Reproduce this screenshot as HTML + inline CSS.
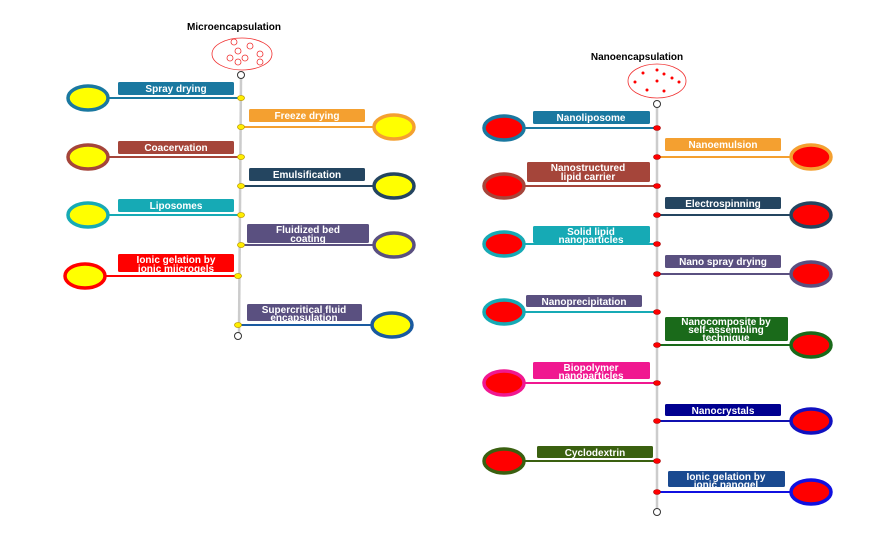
<!DOCTYPE html>
<html><head><meta charset="utf-8"><style>
html,body{margin:0;padding:0;background:#fff;}
svg{display:block;font-family:"Liberation Sans",sans-serif;font-weight:bold;}
</style></head><body>
<svg width="876" height="534" viewBox="0 0 876 534" xmlns="http://www.w3.org/2000/svg">
<g font-size="10" text-anchor="middle" fill="#fff">
<!-- LEFT -->
<text x="234" y="30" fill="#000" font-size="10">Microencapsulation</text>
<ellipse cx="242" cy="54" rx="30" ry="16" fill="none" stroke="#f03030" stroke-width="0.8"/>
<g fill="none" stroke="#f03030" stroke-width="0.8">
<circle cx="234" cy="42" r="3"/><circle cx="250" cy="46" r="3"/><circle cx="238" cy="51" r="3"/><circle cx="260" cy="54" r="3"/>
<circle cx="230" cy="58" r="3"/><circle cx="245" cy="58" r="3"/><circle cx="238" cy="62" r="3"/><circle cx="260" cy="62" r="3"/></g>
<line x1="241" y1="79" x2="239" y2="333" stroke="#ccc" stroke-width="2.5"/>
<circle cx="241" cy="75" r="3.5" fill="#fff" stroke="#333" stroke-width="1"/>
<circle cx="238" cy="336" r="3.5" fill="#fff" stroke="#333" stroke-width="1"/>

<g stroke-width="2">
<line x1="108" y1="98" x2="241" y2="98" stroke="#1a78a0"/>
<line x1="241" y1="127" x2="374" y2="127" stroke="#f4a030"/>
<line x1="108" y1="157" x2="241" y2="157" stroke="#a5453a"/>
<line x1="241" y1="186" x2="374" y2="186" stroke="#244560"/>
<line x1="108" y1="215" x2="241" y2="215" stroke="#16aab5"/>
<line x1="241" y1="245" x2="374" y2="245" stroke="#5a5080"/>
<line x1="105" y1="276" x2="238" y2="276" stroke="#ff0000"/>
<line x1="238" y1="325" x2="372" y2="325" stroke="#1a5aa0"/>
</g>
<g fill="#ffff00" stroke-width="3.5">
<ellipse cx="88" cy="98" rx="20" ry="12" stroke="#1a78a0"/>
<ellipse cx="394" cy="127" rx="20" ry="12" stroke="#f4a030"/>
<ellipse cx="88" cy="157" rx="20" ry="12" stroke="#a5453a"/>
<ellipse cx="394" cy="186" rx="20" ry="12" stroke="#244560"/>
<ellipse cx="88" cy="215" rx="20" ry="12" stroke="#16aab5"/>
<ellipse cx="394" cy="245" rx="20" ry="12" stroke="#5a5080"/>
<ellipse cx="85" cy="276" rx="20" ry="12" stroke="#ff0000"/>
<ellipse cx="392" cy="325" rx="20" ry="12" stroke="#1a5aa0"/>
</g>
<g fill="#ffee00" stroke="#c0a000" stroke-width="0.8">
<ellipse cx="241" cy="98" rx="3.5" ry="2.5"/><ellipse cx="241" cy="127" rx="3.5" ry="2.5"/>
<ellipse cx="241" cy="157" rx="3.5" ry="2.5"/><ellipse cx="241" cy="186" rx="3.5" ry="2.5"/>
<ellipse cx="241" cy="215" rx="3.5" ry="2.5"/><ellipse cx="241" cy="245" rx="3.5" ry="2.5"/>
<ellipse cx="238" cy="276" rx="3.5" ry="2.5"/><ellipse cx="238" cy="325" rx="3.5" ry="2.5"/>
</g>
<rect x="118" y="82" width="116" height="13" rx="1.5" fill="#1a78a0"/><text x="176" y="92">Spray drying</text>
<rect x="249" y="109" width="116" height="13" rx="1.5" fill="#f4a030"/><text x="307" y="119">Freeze drying</text>
<rect x="118" y="141" width="116" height="13" rx="1.5" fill="#a5453a"/><text x="176" y="151">Coacervation</text>
<rect x="249" y="168" width="116" height="13" rx="1.5" fill="#244560"/><text x="307" y="178">Emulsification</text>
<rect x="118" y="199" width="116" height="13" rx="1.5" fill="#16aab5"/><text x="176" y="209">Liposomes</text>
<rect x="247" y="224" width="122" height="19" rx="1.5" fill="#5a5080"/><text x="308" y="233">Fluidized bed</text><text x="308" y="242">coating</text>
<rect x="118" y="254" width="116" height="18" rx="1.5" fill="#ff0000"/><text x="176" y="263">Ionic gelation by</text><text x="176" y="272">ionic miicrogels</text>
<rect x="247" y="304" width="115" height="17" rx="1.5" fill="#5a5080"/><text x="304" y="313">Supercritical fluid</text><text x="304" y="321">encapsulation</text>

<!-- RIGHT -->
<text x="637" y="60" fill="#000" font-size="10">Nanoencapsulation</text>
<ellipse cx="657" cy="81" rx="29" ry="17" fill="none" stroke="#f03030" stroke-width="0.8"/>
<g fill="#ff0000">
<circle cx="643" cy="73" r="1.5"/><circle cx="657" cy="70" r="1.5"/><circle cx="664" cy="74" r="1.5"/><circle cx="672" cy="78" r="1.5"/>
<circle cx="635" cy="82" r="1.5"/><circle cx="657" cy="81" r="1.5"/><circle cx="679" cy="82" r="1.5"/><circle cx="647" cy="90" r="1.5"/><circle cx="664" cy="91" r="1.5"/></g>
<line x1="657" y1="108" x2="657" y2="508" stroke="#ccc" stroke-width="2.5"/>
<circle cx="657" cy="104" r="3.5" fill="#fff" stroke="#333" stroke-width="1"/>
<circle cx="657" cy="512" r="3.5" fill="#fff" stroke="#333" stroke-width="1"/>

<g stroke-width="2">
<line x1="524" y1="128" x2="657" y2="128" stroke="#1a78a0"/>
<line x1="657" y1="157" x2="791" y2="157" stroke="#f4a030"/>
<line x1="524" y1="186" x2="657" y2="186" stroke="#a5453a"/>
<line x1="657" y1="215" x2="791" y2="215" stroke="#244560"/>
<line x1="524" y1="244" x2="657" y2="244" stroke="#16aab5"/>
<line x1="657" y1="274" x2="791" y2="274" stroke="#5a5080"/>
<line x1="524" y1="312" x2="657" y2="312" stroke="#16aab5"/>
<line x1="657" y1="345" x2="791" y2="345" stroke="#1a6a1a"/>
<line x1="524" y1="383" x2="657" y2="383" stroke="#f01890"/>
<line x1="657" y1="421" x2="791" y2="421" stroke="#1010b0"/>
<line x1="524" y1="461" x2="657" y2="461" stroke="#3a6010"/>
<line x1="657" y1="492" x2="791" y2="492" stroke="#1010e0"/>
</g>
<g fill="#ff0000" stroke-width="3.5">
<ellipse cx="504" cy="128" rx="20" ry="12" stroke="#1a78a0"/>
<ellipse cx="811" cy="157" rx="20" ry="12" stroke="#f4a030"/>
<ellipse cx="504" cy="186" rx="20" ry="12" stroke="#a5453a"/>
<ellipse cx="811" cy="215" rx="20" ry="12" stroke="#244560"/>
<ellipse cx="504" cy="244" rx="20" ry="12" stroke="#16aab5"/>
<ellipse cx="811" cy="274" rx="20" ry="12" stroke="#5a5080"/>
<ellipse cx="504" cy="312" rx="20" ry="12" stroke="#16aab5"/>
<ellipse cx="811" cy="345" rx="20" ry="12" stroke="#1a6a1a"/>
<ellipse cx="504" cy="383" rx="20" ry="12" stroke="#f01890"/>
<ellipse cx="811" cy="421" rx="20" ry="12" stroke="#1010c0"/>
<ellipse cx="504" cy="461" rx="20" ry="12" stroke="#3a6010"/>
<ellipse cx="811" cy="492" rx="20" ry="12" stroke="#1010e0"/>
</g>
<g fill="#ff0000" stroke="#a00" stroke-width="0.6">
<ellipse cx="657" cy="128" rx="3.5" ry="2.5"/><ellipse cx="657" cy="157" rx="3.5" ry="2.5"/>
<ellipse cx="657" cy="186" rx="3.5" ry="2.5"/><ellipse cx="657" cy="215" rx="3.5" ry="2.5"/>
<ellipse cx="657" cy="244" rx="3.5" ry="2.5"/><ellipse cx="657" cy="274" rx="3.5" ry="2.5"/>
<ellipse cx="657" cy="312" rx="3.5" ry="2.5"/><ellipse cx="657" cy="345" rx="3.5" ry="2.5"/>
<ellipse cx="657" cy="383" rx="3.5" ry="2.5"/><ellipse cx="657" cy="421" rx="3.5" ry="2.5"/>
<ellipse cx="657" cy="461" rx="3.5" ry="2.5"/><ellipse cx="657" cy="492" rx="3.5" ry="2.5"/>
</g>
<rect x="533" y="111" width="117" height="13" rx="1.5" fill="#1a78a0"/><text x="591" y="121">Nanoliposome</text>
<rect x="665" y="138" width="116" height="13" rx="1.5" fill="#f4a030"/><text x="723" y="148">Nanoemulsion</text>
<rect x="527" y="162" width="123" height="20" rx="1.5" fill="#a5453a"/><text x="588" y="171">Nanostructured</text><text x="588" y="180">lipid carrier</text>
<rect x="665" y="197" width="116" height="12" rx="1.5" fill="#244560"/><text x="723" y="207">Electrospinning</text>
<rect x="533" y="226" width="117" height="17" rx="1.5" fill="#16aab5"/><text x="591" y="235">Solid lipid</text><text x="591" y="243">nanoparticles</text>
<rect x="665" y="255" width="116" height="13" rx="1.5" fill="#5a5080"/><text x="723" y="265">Nano spray drying</text>
<rect x="526" y="295" width="116" height="12" rx="1.5" fill="#5a5080"/><text x="584" y="305">Nanoprecipitation</text>
<rect x="665" y="317" width="123" height="24" rx="1.5" fill="#1a6a1a"/><text x="726" y="325">Nanocomposite by</text><text x="726" y="333">self-assembling</text><text x="726" y="341">technique</text>
<rect x="533" y="362" width="117" height="17" rx="1.5" fill="#f01890"/><text x="591" y="371">Biopolymer</text><text x="591" y="379">nanoparticles</text>
<rect x="665" y="404" width="116" height="12" rx="1.5" fill="#000090"/><text x="723" y="414">Nanocrystals</text>
<rect x="537" y="446" width="116" height="12" rx="1.5" fill="#3a6010"/><text x="595" y="456">Cyclodextrin</text>
<rect x="668" y="471" width="117" height="16" rx="1.5" fill="#1a4a90"/><text x="726" y="480">Ionic gelation by</text><text x="726" y="488">ionic nanogel</text>
</g>
</svg>
</body></html>
